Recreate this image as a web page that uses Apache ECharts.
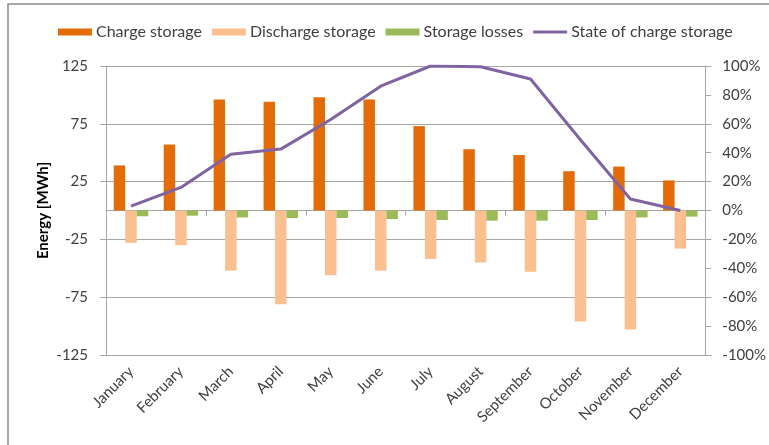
<!DOCTYPE html>
<html>
<head>
<meta charset="utf-8">
<script src="https://cdn.jsdelivr.net/npm/echarts@6/dist/echarts.min.js"></script>
<style>
  html, body { margin: 0; padding: 0; background: #fff; }
  #chart { width: 769px; height: 445px; }
</style>
</head>
<body>
<div id="chart"></div>
<script>
// monthly values
const months = ['January', 'February', 'March', 'April', 'May', 'June',
    'July', 'August', 'September', 'October', 'November', 'December'];
const chargeStorage = [39, 57, 96, 94, 98, 96, 73, 53, 48, 34, 38, 26];
const dischargeStorage = [-28, -30, -52, -81, -56, -52, -42, -45, -53, -96, -103, -33];
const storageLosses = [-5, -4.5, -6, -6.5, -6.5, -7.4, -8.2, -8.8, -8.8, -8.2, -6, -5.3];
const stateOfCharge = [3, 16, 39, 42.5, 63, 86, 100, 99.5, 91, 49, 8, 0]; // percent

const textColor = '#404040';
const gridColor = '#A6A6A6';
const font = 'Lato';
const fs = 15;

const myChart = echarts.init(document.getElementById('chart'));

const option = {
    animation: false,
    textStyle: { fontFamily: font, color: textColor },
    graphic: [{
        // outer chart border (only left / top edges are inside the picture)
        type: 'rect',
        shape: { x: 8, y: 4, width: 800, height: 500 },
        style: { fill: 'none', stroke: '#8c8c8c', lineWidth: 1.5 }
    }],
    legend: {
        left: 58,
        top: 24,
        padding: 0,
        itemWidth: 34,
        itemHeight: 7,
        itemGap: 10,
        textStyle: { fontFamily: font, fontSize: 16, color: textColor, padding: [0, 0, 0, -1] },
        data: [
            { name: 'Charge storage', icon: 'rect' },
            { name: 'Discharge storage', icon: 'rect' },
            { name: 'Storage losses', icon: 'rect' },
            { name: 'State of charge storage', icon: 'path://M0,0 L34,0 L34,3 L0,3 Z' }
        ]
    },
    grid: { left: 106, right: 62, top: 66, bottom: 90 },
    xAxis: [
        {
            type: 'category',
            data: months,
            position: 'bottom',
            axisLine: { onZero: false, lineStyle: { color: gridColor } },
            axisTick: { show: false },
            axisLabel: {
                rotate: 45, margin: 14, fontSize: fs, color: textColor,
                fontFamily: font, interval: 0
            }
        },
        {
            // axis line drawn through zero, with ticks between months
            type: 'category',
            data: months,
            position: 'bottom',
            axisLine: { onZero: true, onZeroAxisIndex: 0, lineStyle: { color: gridColor } },
            axisTick: { show: true, length: 5, lineStyle: { color: gridColor } },
            axisLabel: { show: false }
        }
    ],
    yAxis: [
        {
            type: 'value',
            min: -125,
            max: 125,
            interval: 50,
            name: 'Energy [MWh]',
            nameLocation: 'middle',
            nameGap: 55,
            nameMoveOverlap: false,
            nameTextStyle: { fontFamily: font, fontSize: 15, fontWeight: 'bold', color: '#000' },
            axisLine: { show: true, lineStyle: { color: gridColor } },
            axisTick: { show: true, length: 6, lineStyle: { color: gridColor } },
            axisLabel: { margin: 18, fontSize: fs, color: textColor, fontFamily: font },
            splitLine: { show: true, lineStyle: { color: gridColor } }
        },
        {
            type: 'value',
            min: -100,
            max: 100,
            interval: 20,
            position: 'right',
            axisLine: { show: true, lineStyle: { color: gridColor } },
            axisTick: { show: true, length: 6, lineStyle: { color: gridColor } },
            axisLabel: { margin: 17, fontSize: fs, color: textColor, fontFamily: font, formatter: '{value}%' },
            splitLine: { show: false }
        }
    ],
    series: [
        {
            name: 'Charge storage',
            type: 'bar',
            barGap: '0%',
            barCategoryGap: '31%',
            itemStyle: { color: '#E36C09' },
            data: chargeStorage
        },
        {
            name: 'Discharge storage',
            type: 'bar',
            barGap: '0%',
            barCategoryGap: '31%',
            itemStyle: { color: '#FAC090' },
            data: dischargeStorage
        },
        {
            name: 'Storage losses',
            type: 'bar',
            barGap: '0%',
            barCategoryGap: '31%',
            itemStyle: { color: '#9BBB59' },
            data: storageLosses
        },
        {
            name: 'State of charge storage',
            type: 'line',
            yAxisIndex: 1,
            symbol: 'none',
            lineStyle: { color: '#8064A2', width: 3 },
            itemStyle: { color: '#8064A2' },
            data: stateOfCharge,
            z: 5
        }
    ]
};

myChart.setOption(option);
</script>
</body>
</html>
